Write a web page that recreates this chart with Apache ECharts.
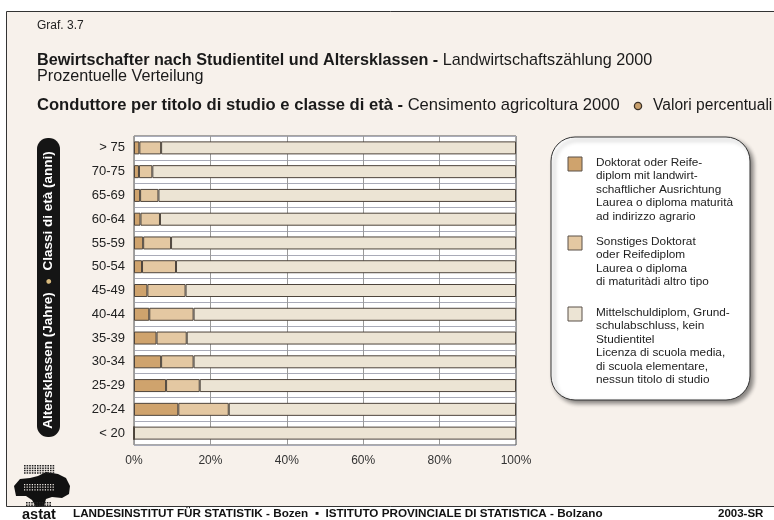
<!DOCTYPE html>
<html>
<head>
<meta charset="utf-8">
<script src="https://cdn.jsdelivr.net/npm/echarts@6/dist/echarts.min.js"></script>
<style>
  html, body { margin: 0; padding: 0; background: #fff; }
  #chart { width: 774px; height: 520px; }
</style>
</head>
<body>
<div id="chart"></div>
<script>
// age classes, top to bottom
const categories = ['> 75', '70-75', '65-69', '60-64', '55-59', '50-54', '45-49',
    '40-44', '35-39', '30-34', '25-29', '20-24', '< 20'];
// shares in % per age class
const agrarDiplom = [1.4, 1.3, 1.6, 1.7, 2.4, 2.1, 3.5, 4.0, 5.9, 7.1, 8.4, 11.6, 0];
const sonstDiplom = [5.7, 3.5, 4.8, 5.1, 7.3, 8.9, 10.0, 11.6, 7.9, 8.5, 8.8, 13.2, 0];
const mittelschule = [92.9, 95.2, 93.6, 93.2, 90.3, 89.0, 86.5, 84.4, 86.2, 84.4, 82.8, 75.2, 100];
const xTicks = [0, 20, 40, 60, 80, 100];

const seriesNames = [
    'Doktorat oder Reife-\ndiplom mit landwirt-\nschaftlicher Ausrichtung\nLaurea o diploma maturità\nad indirizzo agrario',
    'Sonstiges Doktorat\noder Reifediplom\nLaurea o diploma\ndi maturitàdi altro tipo',
    'Mittelschuldiplom, Grund-\nschulabschluss, kein\nStudientitel\nLicenza di scuola media,\ndi scuola elementare,\nnessun titolo di studio'
];
const colors = ['#cfa36d', '#e4c8a2', '#ece4d4'];
const font = '"Liberation Sans", Arial, sans-serif';

const el = document.getElementById('chart');
const chart = echarts.init(el, null, { renderer: 'canvas' });

const mkSeries = (name, data, color) => ({
    name, type: 'bar', stack: 'all', data, barWidth: 13,
    itemStyle: { color, borderColor: '#4d443b', borderWidth: 1 },
    emphasis: { disabled: true }, silent: true
});

// legend drawn by hand (multi-line entries inside a rounded box)
const legendTops = [157, 236, 307];
const legendGraphics = [];
seriesNames.forEach((name, i) => {
    legendGraphics.push({
        type: 'rect', shape: { x: 568, y: legendTops[i], width: 14, height: 14 },
        style: { fill: colors[i], stroke: '#5a5048', lineWidth: 1 }, z: 10
    });
    legendGraphics.push({
        type: 'text', x: 596, y: legendTops[i] - 1, z: 10,
        style: { text: name, font: '11.8px ' + font, fill: '#222', lineHeight: 13.4 }
    });
});

// astat logo, rough shape
const logo = [];
logo.push({
    type: 'polygon', z: 5,
    shape: { points: [[14, 486], [20, 479], [30, 478], [38, 476], [46, 472], [58, 474], [66, 478], [70, 486],
        [69, 494], [62, 498], [52, 497], [46, 499], [44, 506], [36, 507], [32, 500], [26, 496], [16, 496]] },
    style: { fill: '#111' }
});
for (let r = 0; r < 4; r++) {
    for (let c = 0; c < 12; c++) {
        logo.push({ type: 'rect', z: 6, shape: { x: 24 + c * 2.6, y: 465 + r * 2.4, width: 1.6, height: 1.5 }, style: { fill: '#222' } });
    }
}
for (let r = 0; r < 3; r++) {
    for (let c = 0; c < 12; c++) {
        logo.push({ type: 'rect', z: 6, shape: { x: 24 + c * 2.6, y: 484 + r * 2.6, width: 1.2, height: 1.2 }, style: { fill: '#f7f1eb' } });
    }
}
for (let r = 0; r < 2; r++) {
    for (let c = 0; c < 10; c++) {
        logo.push({ type: 'rect', z: 6, shape: { x: 26 + c * 2.6, y: 502 + r * 2.4, width: 1.6, height: 1.5 }, style: { fill: '#222' } });
    }
}

const option = {
    backgroundColor: '#ffffff',
    animation: false,
    textStyle: { fontFamily: font },
    grid: {
        left: 134, top: 136, width: 382, height: 309,
        show: true, backgroundColor: '#ffffff', borderColor: '#555', borderWidth: 1
    },
    xAxis: {
        type: 'value', min: 0, max: 100, interval: 20,
        axisLine: { show: false }, axisTick: { show: false },
        axisLabel: { formatter: v => xTicks.includes(v) ? v + '%' : '', color: '#333', fontSize: 12, margin: 10 },
        splitLine: { show: true, lineStyle: { color: '#9a9a9a', width: 1 } }
    },
    yAxis: {
        type: 'category', data: categories, inverse: true,
        axisLine: { show: false }, axisTick: { show: false },
        axisLabel: { color: '#222', fontSize: 13, margin: 9, align: 'right' },
        splitLine: { show: true, lineStyle: { color: '#a9abb8', width: 1 } }
    },
    series: [
        mkSeries(seriesNames[0], agrarDiplom, colors[0]),
        mkSeries(seriesNames[1], sonstDiplom, colors[1]),
        mkSeries(seriesNames[2], mittelschule, colors[2])
    ],
    graphic: [
        // cream panel with frame
        { type: 'rect', z: -10, silent: true, shape: { x: 6.5, y: 11.5, width: 790, height: 495 },
          style: { fill: '#f7f1eb', stroke: '#333', lineWidth: 1 } },
        { type: 'text', x: 37, y: 20, style: { text: 'Graf. 3.7', font: '12px ' + font, fill: '#222' } },
        { type: 'text', x: 37, y: 53, style: {
            text: '{b|Bewirtschafter nach Studientitel und Altersklassen - }Landwirtschaftszählung 2000',
            font: '16.2px ' + font, fill: '#1a1a1a',
            rich: { b: { fontWeight: 'bold', fontSize: 16.2, fill: '#1a1a1a' } } } },
        { type: 'text', x: 37, y: 69, style: { text: 'Prozentuelle Verteilung', font: '16.2px ' + font, fill: '#1a1a1a' } },
        { type: 'text', x: 37, y: 97, style: {
            text: '{b|Conduttore per titolo di studio e classe di età - }Censimento agricoltura 2000',
            font: '16.6px ' + font, fill: '#1a1a1a',
            rich: { b: { fontWeight: 'bold', fontSize: 16.6, fill: '#1a1a1a' } } } },
        { type: 'circle', shape: { cx: 638, cy: 106, r: 3.6 }, style: { fill: '#c9a06c', stroke: '#3a3128', lineWidth: 1.3 } },
        { type: 'text', x: 653, y: 98, style: { text: 'Valori percentuali', font: '15.6px ' + font, fill: '#1a1a1a' } },
        // vertical axis title pill
        { type: 'rect', shape: { x: 37, y: 138, width: 23, height: 299, r: 11 }, style: { fill: '#151515' } },
        { type: 'text', x: 48.5, y: 290, rotation: Math.PI / 2, style: {
            text: 'Altersklassen (Jahre)  {d|●}  Classi di età (anni)', align: 'center', verticalAlign: 'middle',
            font: 'bold 13.5px ' + font, fill: '#fff',
            rich: { d: { fill: '#d9bb7e', fontSize: 11 } } } },
        // legend box
        { type: 'rect', shape: { x: 551, y: 137, width: 199, height: 263, r: 24 }, z: 9,
          style: { fill: '#fff', stroke: '#333', lineWidth: 1, shadowBlur: 4, shadowOffsetX: 3, shadowOffsetY: 3, shadowColor: 'rgba(0,0,0,0.45)' } },
        ...legendGraphics,
        ...logo,
        { type: 'text', x: 22, y: 507, style: { text: 'astat', font: 'bold 14.5px ' + font, fill: '#111' } },
        { type: 'text', x: 73, y: 508, style: {
            text: 'LANDESINSTITUT FÜR STATISTIK - Bozen  ▪  ISTITUTO PROVINCIALE DI STATISTICA - Bolzano',
            font: 'bold 11.7px ' + font, fill: '#111' } },
        { type: 'text', x: 718, y: 508, style: { text: '2003-SR', font: 'bold 11.5px ' + font, fill: '#111' } }
    ]
};

chart.setOption(option);
window.addEventListener('resize', () => chart.resize());
</script>
</body>
</html>
